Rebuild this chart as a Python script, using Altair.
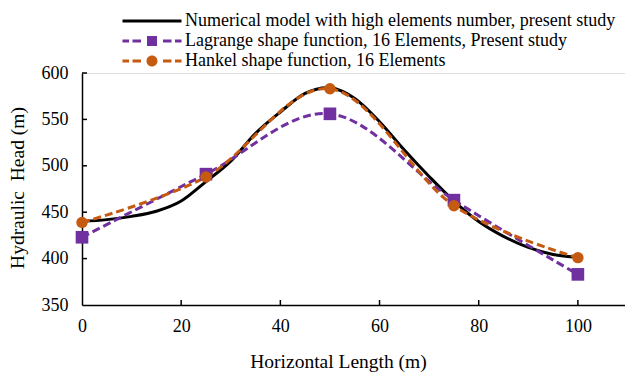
import altair as alt
import pandas as pd

# ---- data ----
series_names = [
    "Numerical model with high elements number, present study",
    "Lagrange shape function, 16 Elements, Present study",
    "Hankel shape function, 16 Elements",
]
series_colors = ["#000000", "#7030A0", "#C55A11"]

model_x = [0, 5, 10, 15, 20, 25, 30, 35, 40, 45, 50, 55, 60, 65, 70, 75, 80, 85, 90, 95, 100]
model_y = [440, 442, 445.5, 451, 462, 483, 505, 535, 558, 578, 584, 572.5, 547.5, 517, 488.5, 462, 440, 424, 412, 404.5, 401.5]

elem_x = [0, 25, 50, 75, 100]
lagrange_y = [423, 491, 556, 463, 383]
hankel_y = [439, 488, 583, 457, 401]

x_ticks = [0, 20, 40, 60, 80, 100]
y_ticks = [350, 400, 450, 500, 550, 600]

# ---- tables ----
df_model = pd.DataFrame({"x": model_x, "y": model_y, "series": series_names[0]})
df_lag = pd.DataFrame({"x": elem_x, "y": lagrange_y, "series": series_names[1]})
df_han = pd.DataFrame({"x": elem_x, "y": hankel_y, "series": series_names[2]})
df_all = pd.concat([df_model, df_lag, df_han], ignore_index=True)
df_xt = pd.DataFrame({"x": x_ticks[1:]})
df_yt = pd.DataFrame({"y": y_ticks[1:]})

FONT = "Liberation Serif"
W, H = 543, 232

x_scale = alt.Scale(domain=[0, 109.5], nice=False)
y_scale = alt.Scale(domain=[350, 600], nice=False)

x_enc = alt.X(
    "x:Q", scale=x_scale,
    axis=alt.Axis(
        values=x_ticks, title="Horizontal Length (m)", grid=False, tickSize=0,
        labelPadding=12, labelFontSize=18, labelFont=FONT, labelColor="black",
        labelFlush=False,
        domainColor="black", domainWidth=1.5,
        titleFont=FONT, titleFontSize=19.5, titleFontWeight="normal", titleColor="black",
        titleX=256, titleY=62, titleBaseline="alphabetic", titleAlign="center",
    ),
)
y_enc = alt.Y(
    "y:Q", scale=y_scale,
    axis=alt.Axis(
        values=y_ticks, title="Hydraulic\u00a0 Head (m)", grid=False, tickSize=0,
        labelPadding=14, labelFontSize=18, labelFont=FONT, labelColor="black",
        labelFlush=False,
        domainColor="black", domainWidth=1.5,
        titleFont=FONT, titleFontSize=19.5, titleFontWeight="normal", titleColor="black",
        titleAngle=270, titleX=-58.5, titleY=114.5, titleBaseline="alphabetic", titleAlign="center",
    ),
)

# inward ticks
xticks = alt.Chart(df_xt).mark_rule(color="black", strokeWidth=1.5).encode(
    x=x_enc, y=alt.value(H), y2=alt.value(H - 5)
)
yticks = alt.Chart(df_yt).mark_rule(color="black", strokeWidth=1.5).encode(
    y=y_enc, x=alt.value(0), x2=alt.value(5)
)

model_line = alt.Chart(df_model).mark_line(
    color=series_colors[0], strokeWidth=3, interpolate="cardinal"
).encode(x=x_enc, y=y_enc)

lag_line = alt.Chart(df_lag).mark_line(
    color=series_colors[1], strokeWidth=3, strokeDash=[8, 4], interpolate="cardinal"
).encode(x=x_enc, y=y_enc)
han_line = alt.Chart(df_han).mark_line(
    color=series_colors[2], strokeWidth=3, strokeDash=[8, 4], interpolate="cardinal"
).encode(x=x_enc, y=y_enc)

lag_pts = alt.Chart(df_lag).mark_point(
    shape="square", filled=True, size=160, color=series_colors[1], opacity=1
).encode(x=x_enc, y=y_enc)
han_pts = alt.Chart(df_han).mark_point(
    shape="circle", filled=True, size=130, color=series_colors[2], opacity=1
).encode(x=x_enc, y=y_enc)

# legend symbols: line (with marker) drawn as custom paths, 1 unit = 1 px
sym_line = "M-29.5,-1.5H29.5V1.5H-29.5Z"
dashes = ("M-29.5,-1.5H-23V1.5H-29.5Z M-19.5,-1.5H-11V1.5H-19.5Z "
          "M11,-1.5H19.5V1.5H11Z M23,-1.5H29.5V1.5H23Z ")
sym_square = dashes + "M-5,-5H5V5H-5Z"
sym_circle = dashes + "M-5.5,0A5.5,5.5 0 1,0 5.5,0A5.5,5.5 0 1,0 -5.5,0Z"

# legend-only layer (its marks are filtered out; the legend comes from the scale domain)
legend_layer = alt.Chart(df_all).transform_filter("false").mark_point(
    filled=True, size=4, opacity=1
).encode(
    x=x_enc, y=y_enc,
    color=alt.Color(
        "series:N",
        scale=alt.Scale(domain=series_names, range=series_colors),
        legend=alt.Legend(
            title=None, orient="none", legendX=61, legendY=-61,
            labelFont=FONT, labelFontSize=18, labelColor="black", labelLimit=1000,
            labelOffset=24, symbolSize=4, symbolStrokeWidth=0, symbolOpacity=1,
            rowPadding=2,
        ),
    ),
    shape=alt.Shape(
        "series:N",
        scale=alt.Scale(domain=series_names, range=[sym_line, sym_square, sym_circle]),
    ),
)

chart = alt.layer(
    model_line, lag_line, han_line, lag_pts, han_pts, xticks, yticks, legend_layer
).properties(
    width=W, height=H,
    padding={"left": 82, "top": 73, "right": 0, "bottom": 68},
    autosize=alt.AutoSizeParams(type="none"),
).configure_view(stroke=None).configure(font=FONT, background="white")

chart.save("out.html", embed_options={"renderer": "svg", "actions": False})
